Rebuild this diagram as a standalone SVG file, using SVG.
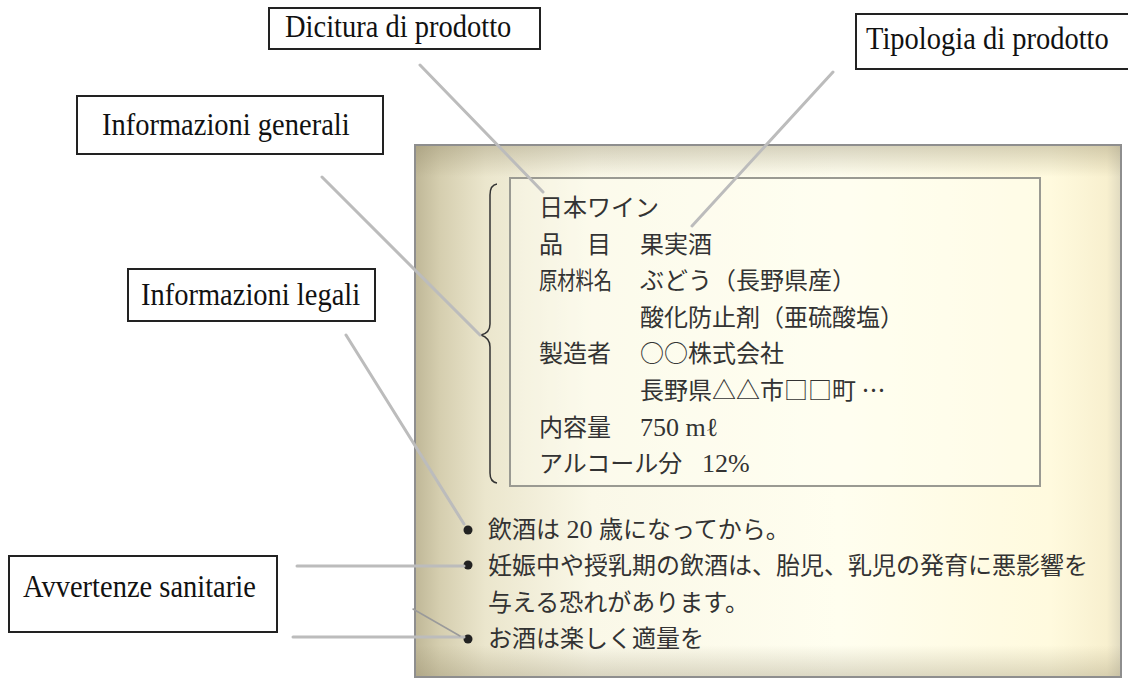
<svg xmlns="http://www.w3.org/2000/svg" width="1128" height="680" viewBox="0 0 1128 680">
<defs>
<style>
.lbl rect{fill:#fff;stroke:#222;stroke-width:2}
.lbl text{font-family:"Liberation Serif","Times New Roman",serif;font-size:28.5px;fill:#111}
.jp{font-family:"Noto Sans CJK JP","Liberation Serif",sans-serif;font-size:24px;fill:#333}
.la{font-family:"Liberation Serif","Times New Roman",serif;font-size:26px}
.conn line{stroke:#bcbcbc;stroke-width:3;stroke-linecap:round}
</style>
<linearGradient id="hg" x1="0" y1="0" x2="1" y2="0">
<stop offset="0" stop-color="#bfb797"/>
<stop offset="0.035" stop-color="#d5ceaf"/>
<stop offset="0.1" stop-color="#ebe6cd"/>
<stop offset="0.25" stop-color="#faf8e8"/>
<stop offset="0.6" stop-color="#fffeef"/>
<stop offset="0.9" stop-color="#fffade"/>
<stop offset="0.98" stop-color="#f8f0cf"/>
<stop offset="1" stop-color="#e0dac0"/>
</linearGradient>
<linearGradient id="vg" x1="0" y1="0" x2="0" y2="1">
<stop offset="0" stop-color="#8a8060" stop-opacity="0.35"/>
<stop offset="0.06" stop-color="#8a8060" stop-opacity="0"/>
<stop offset="0.94" stop-color="#8a8060" stop-opacity="0"/>
<stop offset="1" stop-color="#8a8060" stop-opacity="0.3"/>
</linearGradient>
</defs>
<rect width="1128" height="680" fill="#fff"/>

<g id="panel">
<rect x="415" y="145" width="706" height="532" fill="url(#hg)"/>
<rect x="415" y="145" width="706" height="532" fill="url(#vg)" stroke="#8e8e8e" stroke-width="2"/>
<rect x="510" y="178" width="530" height="308" fill="#fffff4" fill-opacity="0.35" stroke="#9a9a92" stroke-width="2"/>
<path d="M497,184 Q490,185 490,195 L490,324 Q490,333 481,335 Q490,338 490,347 L490,473 Q490,482 497,483" fill="none" stroke="#333" stroke-width="1.5"/>
<g class="jp">
<text x="539" y="216">日本ワイン</text>
<text x="539" y="253">品　目</text>
<text x="640" y="253">果実酒</text>
<text x="539" y="289" textLength="73" lengthAdjust="spacingAndGlyphs">原材料名</text>
<text x="640" y="289">ぶどう（長野県産）</text>
<text x="640" y="326">酸化防止剤（亜硫酸塩）</text>
<text x="539" y="362">製造者</text>
<text x="640" y="362">○○株式会社</text>
<text x="640" y="399">長野県△△市□□町 …</text>
<text x="539" y="436">内容量</text>
<text x="640" y="436" class="la">750 mℓ</text>
<text x="539" y="472">アルコール分<tspan x="702" class="la">12%</tspan></text>
</g>
<g fill="#222">
<circle cx="468" cy="530" r="4.5"/>
<circle cx="468" cy="565" r="4.5"/>
<circle cx="468" cy="639" r="4.5"/>
</g>
<g class="jp">
<text x="488" y="538">飲酒は<tspan class="la"> 20 </tspan>歳になってから。</text>
<text x="488" y="574">妊娠中や授乳期の飲酒は、胎児、乳児の発育に悪影響を</text>
<text x="488" y="611">与える恐れがあります。</text>
<text x="488" y="647">お酒は楽しく適量を</text>
</g>
</g>

<g id="connectors" class="conn">
<line x1="420" y1="65" x2="543" y2="192"/>
<line x1="833" y1="72" x2="692" y2="226"/>
<line x1="322" y1="177" x2="480" y2="335"/>
<line x1="346" y1="335" x2="464" y2="524"/>
<line x1="297" y1="566" x2="464" y2="566"/>
<line x1="293" y1="637" x2="464" y2="637"/>
<line x1="413" y1="609" x2="460" y2="636" style="stroke:#9a9a9a;stroke-width:1.5"/>
</g>

<g id="label-dicitura" class="lbl">
<rect x="269" y="8" width="271" height="41"/>
<text transform="translate(285,37) scale(1,1.12)">Dicitura di prodotto</text>
</g>
<g id="label-tipologia" class="lbl">
<rect x="856" y="14" width="290" height="55"/>
<text transform="translate(866,49) scale(1,1.12)">Tipologia di prodotto</text>
</g>
<g id="label-generali" class="lbl">
<rect x="77" y="96" width="306" height="58"/>
<text transform="translate(102,135) scale(1,1.12)">Informazioni generali</text>
</g>
<g id="label-legali" class="lbl">
<rect x="128" y="269" width="247" height="52"/>
<text transform="translate(141,305) scale(1,1.12)">Informazioni legali</text>
</g>
<g id="label-avvertenze" class="lbl">
<rect x="9" y="556" width="268" height="76"/>
<text transform="translate(23,597) scale(1,1.12)">Avvertenze sanitarie</text>
</g>
</svg>
